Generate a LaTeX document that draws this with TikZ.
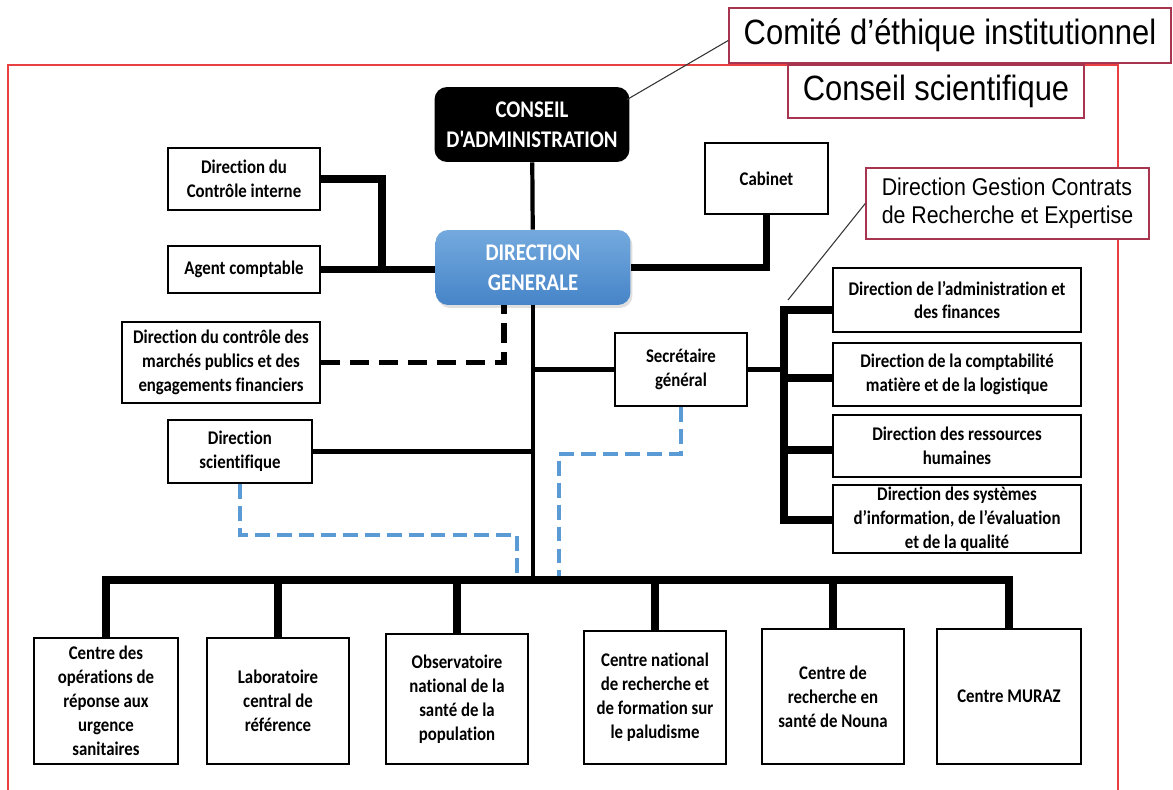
\documentclass[tikz,border=0pt]{standalone}
\usepackage{fontspec}
\setmainfont{Carlito}
\newfontfamily\boxfont[FakeStretch=0.87,Ligatures=NoCommon]{Carlito}
\newfontfamily\redfont[FakeStretch=0.88]{Liberation Sans}
\usetikzlibrary{shadows}
\definecolor{maroonline}{RGB}{168,53,79}
\definecolor{frameline}{RGB}{232,64,64}
\definecolor{dgtop}{RGB}{116,170,222}
\definecolor{dgbot}{RGB}{70,132,200}
\definecolor{linkblue}{RGB}{91,155,213}
\begin{document}
\begin{tikzpicture}[x=0.02cm,y=-0.02cm,
	unit/.style={draw=black,line width=1.1pt,fill=white,inner sep=0pt,align=center,
		font=\boxfont\bfseries\fontsize{11}{13.6}\selectfont},
	board/.style={rounded corners=0.25cm,inner sep=0pt,align=center,text=white,
		font=\boxfont\bfseries\fontsize{13.6}{17}\selectfont,minimum width=3.9cm,minimum height=1.5cm},
	redbox/.style={draw=maroonline,line width=0.9pt,fill=white,inner sep=0pt,
		font=\redfont\fontsize{20}{23}\selectfont},
	bar/.style={line width=4pt},
	midline/.style={line width=2.4pt},
	busline/.style={line width=4.6pt,line cap=rect},
	blackdash/.style={line width=3.4pt,dash pattern=on 11pt off 5.5pt},
	bluedash/.style={linkblue,line width=2.8pt,dash pattern=on 8.5pt off 4pt},
	thinlink/.style={line width=0.6pt,black!80}]
	\useasboundingbox (0,0) rectangle (1173,790);
	\draw[frameline,line width=0.9pt] (8,790) -- (8,65) -- (1118,65) -- (1118,790);

	\node[board,fill=black] (ca) at (532,124.5) {CONSEIL\\D'ADMINISTRATION};
	\node[board,top color=dgtop,bottom color=dgbot,drop shadow={opacity=0.25,shadow xshift=0.04cm,shadow yshift=-0.06cm}] (dg) at (533,267.5) {DIRECTION\\GENERALE};
	\node[unit,minimum width=3.04cm,minimum height=1.24cm] (dci) at (244,179) {Direction du\\Contrôle interne};
	\node[unit,minimum width=3.04cm,minimum height=0.94cm] (ac) at (244,269.5) {Agent comptable};
	\node[unit,minimum width=2.46cm,minimum height=1.42cm] (cab) at (766.5,178.5) {Cabinet};
	\node[unit,minimum width=3.96cm,minimum height=1.62cm] (dcm) at (221,362.5) {Direction du contrôle des\\marchés publics et des\\engagements financiers};
	\node[unit,minimum width=2.88cm,minimum height=1.26cm] (ds) at (240,451.5) {Direction\\scientifique};
	\node[unit,minimum width=2.64cm,minimum height=1.46cm] (sg) at (681,369.5) {Secrétaire\\général};
	\node[unit,minimum width=4.96cm,minimum height=1.28cm] (daf) at (957,300) {Direction de l’administration et\\des finances};
	\node[unit,minimum width=4.96cm,minimum height=1.26cm] (dcml) at (957,374.5) {Direction de la comptabilité\\matière et de la logistique};
	\node[unit,minimum width=4.96cm,minimum height=1.24cm] (drh) at (957,446) {Direction des ressources\\humaines};
	\node[unit,minimum width=4.96cm,minimum height=1.36cm] (dsi) at (957,519) {Direction des systèmes\\d’information, de l’évaluation\\et de la qualité};

	\node[unit,minimum width=2.88cm,minimum height=2.52cm] (c1) at (106,701) {Centre des\\opérations de\\réponse aux\\urgence\\sanitaires};
	\node[unit,minimum width=2.84cm,minimum height=2.52cm] (c2) at (278,701) {Laboratoire\\central de\\référence};
	\node[unit,minimum width=2.84cm,minimum height=2.6cm] (c3) at (457,699) {Observatoire\\national de la\\santé de la\\population};
	\node[unit,minimum width=2.84cm,minimum height=2.66cm] (c4) at (655,697.5) {Centre national\\de recherche et\\de formation sur\\le paludisme};
	\node[unit,minimum width=2.84cm,minimum height=2.7cm] (c5) at (833,696.5) {Centre de\\recherche en\\santé de Nouna};
	\node[unit,minimum width=2.88cm,minimum height=2.7cm] (c6) at (1009,696.5) {Centre MURAZ};

	\node[redbox,minimum width=8.84cm,minimum height=1.1cm] (comite) at (950,35.5) {Comité d’éthique institutionnel};
	\node[redbox,minimum width=5.92cm,minimum height=1.06cm] (cs) at (936,91.5) {Conseil scientifique};
	\node[redbox,font=\redfont\fontsize{13.8}{15.9}\selectfont,align=left,minimum width=5.66cm,minimum height=1.42cm] (dgcre) at (1007.5,203.5) {Direction Gestion Contrats\\de Recherche et Expertise};

	\coordinate (jl) at (382,269);
	\coordinate (sp1) at (784,310);
	\coordinate (sp2) at (784,378);
	\coordinate (sp3) at (784,450);
	\coordinate (sp4) at (784,520);
	\coordinate (bus) at (535,580);
	\coordinate (bd1) at (517,535);
	\coordinate (bd2) at (559,454);
	\coordinate (dgtip) at (788,300);

	\draw[midline] (ca) -- (dg);
	\draw[bar] (dci.east) -| (jl);
	\draw[bar] (ac.east) -- (ac.east -| dg.west);
	\draw[bar] (cab.south) |- (dg.east);
	\draw[blackdash] (dcm.east) -| ([xshift=-0.58cm]dg.south);
	\draw[midline] (dg.south) -- (dg.south |- bus);
	\draw[midline] (dg.south |- sg.west) -- (sg.west);
	\draw[midline] (ds.east) -- (ds.east -| dg.south);
	\draw[midline] (sg.east) -- (sg.east -| sp1);
	\draw[bar] (sp1 -| daf.west) -- (sp1) -- (sp4) -- (sp4 -| dsi.west);
	\draw[bar] (sp2) -- (sp2 -| dcml.west);
	\draw[bar] (sp3) -- (sp3 -| drh.west);
	\draw[bluedash] (ds.south) |- (bd1) -- (bd1 |- bus);
	\draw[bluedash] (sg.south) |- (bd2) -- (bd2 |- bus);
	\draw[busline] (c1.north |- bus) -- (c6.north |- bus);
	\foreach \c in {c1,c2,c3,c4,c5,c6}
		\draw[bar] (\c.north |- bus) -- (\c.north);
	\draw[thinlink] ([yshift=-0.1cm]comite.west) -- ([xshift=-0.06cm,yshift=-0.26cm]ca.north east);
	\draw[thinlink] (dgcre.west) -- (dgtip);
\end{tikzpicture}
\end{document}
